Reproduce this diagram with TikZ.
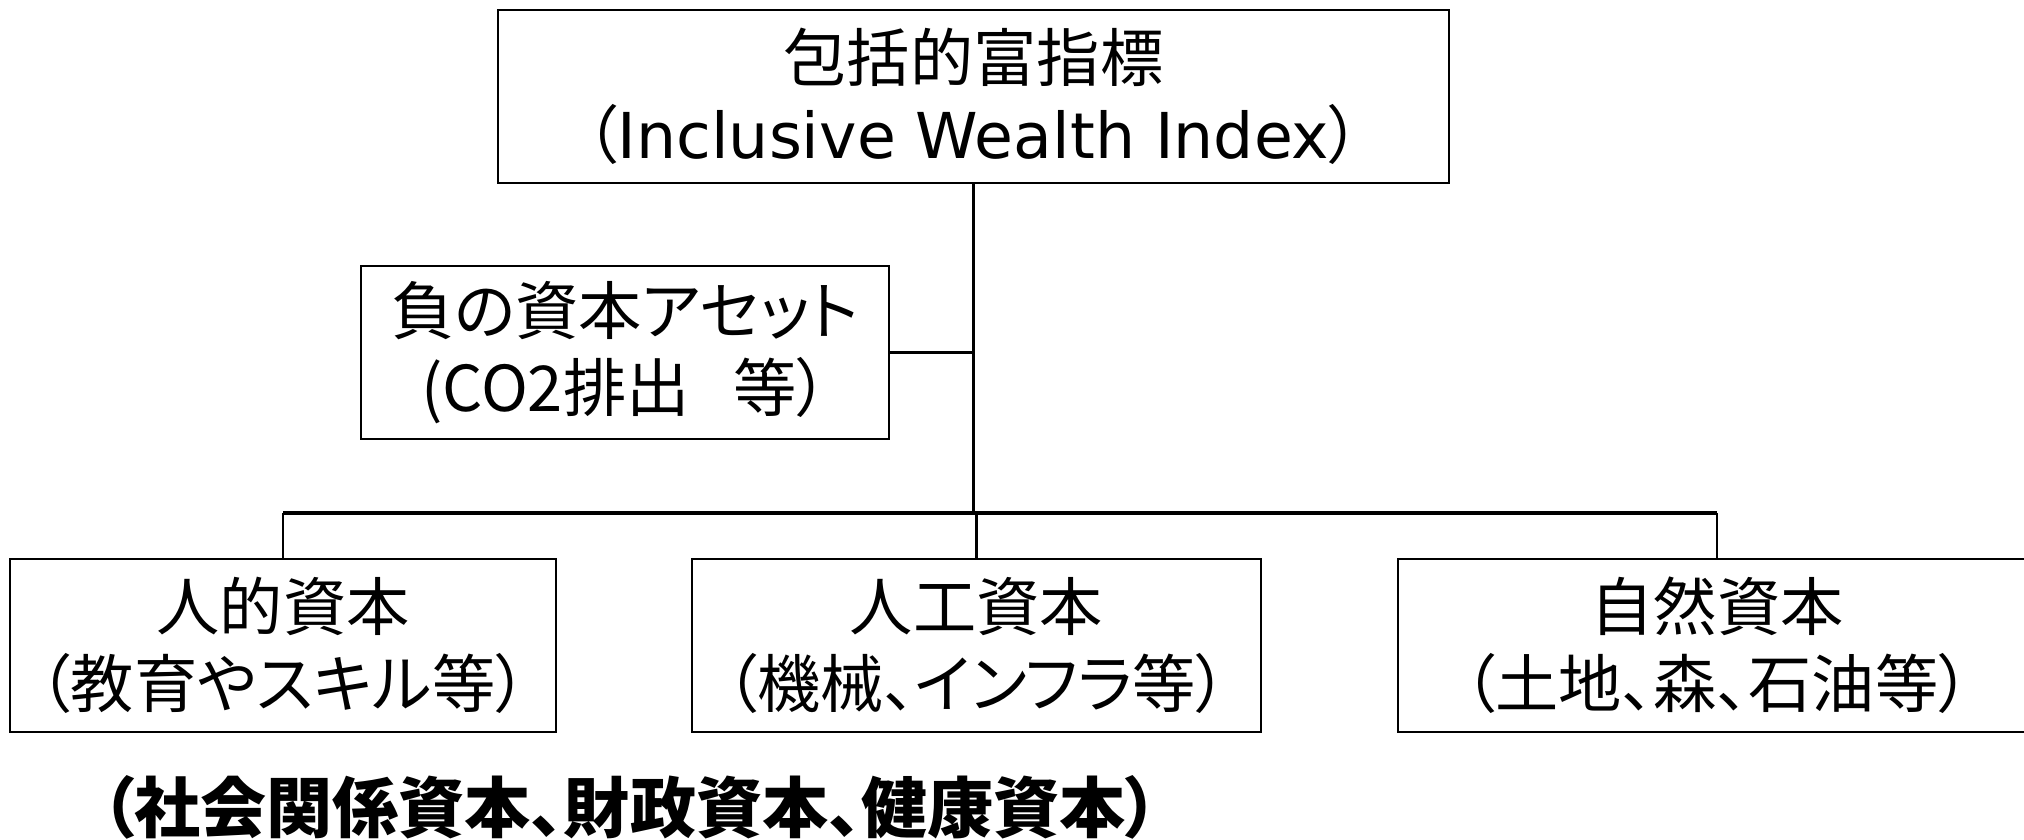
\documentclass[tikz,border=0pt]{standalone}
\usepackage{fontspec}
\setmainfont{Noto Sans CJK JP}[RawFeature=+palt]
\newfontfamily\latinfont{DejaVu Sans}

\begin{document}
\begin{tikzpicture}[
  box/.style={draw, line width=0.5pt, align=center, inner sep=0pt,
    minimum height=1.73cm, font=\fontsize{18}{22}\selectfont},
  link/.style={line width=0.6pt}
]
\useasboundingbox (0,0) rectangle (20.24,-8.39);

% 上の箱
\node[box, minimum width=9.51cm] (iwi) at (9.735,-0.965)
  {包括的富指標\\（{\latinfont Inclusive Wealth Index}）};

% 負の資本
\node[box, minimum width=5.28cm] (neg) at (6.25,-3.525)
  {負の資本アセット\\(CO2排出\hspace{0.7em}等）};

% 三つの資本
\node[box, minimum width=5.46cm] (human) at (2.83,-6.455)
  {人的資本\\（教育やスキル等）};
\node[box, minimum width=5.69cm] (made) at (9.765,-6.455)
  {人工資本\\（機械、インフラ等）};
\node[box, minimum width=6.38cm] (natural) at (17.17,-6.455)
  {自然資本\\（土地、森、石油等）};

% 線
\coordinate (bar) at (9.75,-5.13);
\draw[link] (iwi.south) -- (iwi.south |- bar);
\draw[link] (neg.east) -- (neg.east -| iwi.south);
\draw[line width=1pt] (human.north |- bar) -- (natural.north |- bar);
\foreach \n in {human, made, natural}{
  \draw[link] (\n.north |- bar) -- (\n.north);
}

\node[font=\fontsize{18.8}{22}\selectfont\bfseries] (other) at (6.3,-8.07)
  {（社会関係資本、財政資本、健康資本）};
\end{tikzpicture}
\end{document}
